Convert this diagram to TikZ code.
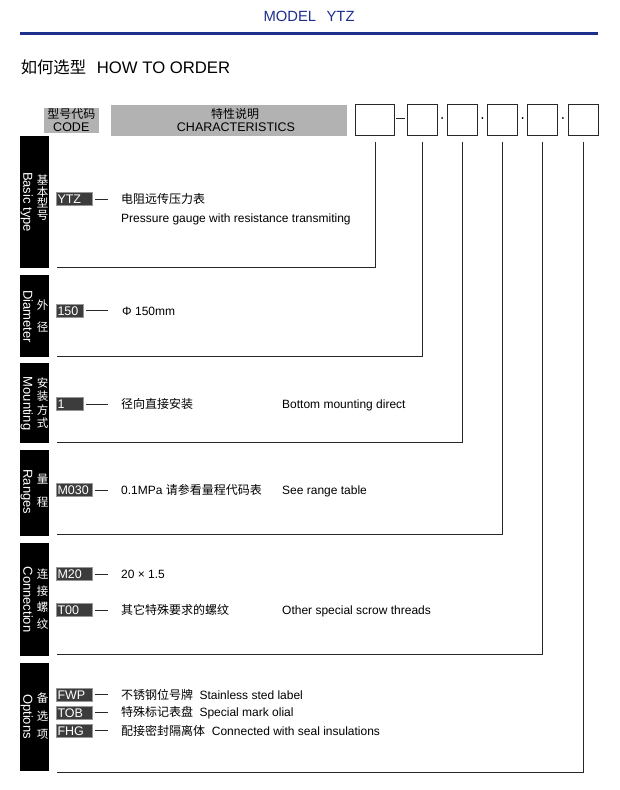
\documentclass[tikz,border=0pt]{standalone}
\usepackage{fontspec}
\setmainfont{Liberation Sans}
\newfontfamily\cjk{Noto Sans CJK SC}
\newcommand\fsz[1]{\fontsize{#1}{#1}\selectfont}
\definecolor{titleblue}{RGB}{28,48,140}
\definecolor{hdrgray}{RGB}{178,178,178}
\definecolor{tagfill}{RGB}{60,60,60}
\definecolor{tagline}{RGB}{150,150,150}
\definecolor{ink}{RGB}{40,40,40}
\begin{document}
\begin{tikzpicture}[x=1pt,y=-1pt,
  side/.style={fill=black, inner sep=0, minimum width=29pt, anchor=north},
  sideen/.style={text=white, rotate=-90, anchor=base, inner sep=0, font=\fsz{13}},
  sidecn/.style={text=white, align=center, inner sep=0, anchor=center},
  codebox/.style={draw=ink, line width=0.9pt, minimum height=31pt, minimum width=30pt, inner sep=0},
  tag/.style={fill=tagfill, draw=tagline, line width=0.6pt, text=white, font=\fsz{12.5}, inner xsep=1.2pt, inner ysep=0, text height=9pt, text depth=0pt, minimum height=13.4pt, align=left, anchor=west, text width=33.5pt},
  tagn/.style={tag, text width=24.5pt},
  txt/.style={anchor=base west, inner sep=0, font=\fsz{12}},
  conn/.style={draw=ink, line width=0.9pt},
  dashln/.style={draw=ink, line width=0.9pt},
  hdr/.style={fill=hdrgray, inner sep=0, anchor=north west},
  dotn/.style={circle, fill=black, inner sep=0, minimum size=2pt},
]
\useasboundingbox (0,0) rectangle (619,790);
\fill[white] (0,0) rectangle (619,790);

% title
\node[anchor=base west, inner sep=0, text=titleblue, font=\fsz{14.8}] (title) at (263.3,21.3) {MODEL\hspace{10.5pt}YTZ};
\draw[titleblue, line width=2.5pt] (20,33.3) -- (598,33.3);
\node[anchor=base west, inner sep=0, font=\cjk\fsz{16.3}] (howcn) at (20.7,73.8) {如何选型};
\node[anchor=base west, inner sep=0, font=\fsz{16.7}] (howen) at (96.7,73.8) {HOW TO ORDER};

% header
\node[hdr, minimum width=55.7pt, minimum height=25.4pt] (codehdr) at (43.3,107.3) {};
\node[anchor=base, inner sep=0, font=\cjk\fsz{12}] (codecn) at (71.3,118.9) {型号代码};
\node[anchor=base, inner sep=0, font=\fsz{12.5}] (codeen) at (71.3,131.5) {CODE};
\node[hdr, minimum width=236pt, minimum height=31pt] (charhdr) at (111,104.3) {};
\node[anchor=base, inner sep=0, font=\cjk\fsz{12}] (charcn) at (235,118.9) {特性说明};
\node[anchor=base, inner sep=0, font=\fsz{12.5}] (charen) at (236,131.5) {CHARACTERISTICS};

% code boxes
\node[codebox, minimum width=38.6pt] (b1) at (375,119.5) {};
\node[codebox] (b2) at (422.5,119.5) {};
\node[codebox] (b3) at (462,119.5) {};
\node[codebox] (b4) at (502.5,119.5) {};
\node[codebox] (b5) at (542.5,119.5) {};
\node[codebox] (b6) at (583.5,119.5) {};
\draw[ink, line width=1pt] ([xshift=1.7pt,yshift=1.5pt]b1.east) -- ([xshift=-2pt,yshift=1.5pt]b2.west);
\node[dotn] (d1) at (442.2,118) {};
\node[dotn] (d2) at (482.3,118) {};
\node[dotn] (d3) at (522.6,118) {};
\node[dotn] (d4) at (562.8,118) {};

% sidebars
\node[side, minimum height=132.2pt] (s1) at (34.5,135.5) {};
\node[side, minimum height=82pt] (s2) at (34.5,275) {};
\node[side, minimum height=80pt] (s3) at (34.5,363) {};
\node[side, minimum height=86.4pt] (s4) at (34.5,449.3) {};
\node[side, minimum height=112.6pt] (s5) at (34.5,542.7) {};
\node[side, minimum height=108.7pt] (s6) at (34.5,662.3) {};

\node[sideen] (s1en) at (23.3,202) {Basic type};
\node[sideen] (s2en) at (23.3,316.5) {Diameter};
\node[sideen] (s3en) at (23.3,403.5) {Mounting};
\node[sideen] (s4en) at (23.3,492) {Ranges};
\node[sideen] (s5en) at (23.3,599.5) {Connection};
\node[sideen] (s6en) at (23.3,716.5) {Options};

\node[sidecn, font=\cjk\fontsize{11.5}{11.5}\selectfont] (s1cn) at (42.7,197.8) {基\\本\\型\\号};
\node[sidecn, font=\cjk\fontsize{11.5}{21.5}\selectfont] (s2cn) at (42.7,316) {外\\径};
\node[sidecn, font=\cjk\fontsize{11.5}{13.5}\selectfont] (s3cn) at (42.7,403) {安\\装\\方\\式};
\node[sidecn, font=\cjk\fontsize{11.5}{22.5}\selectfont] (s4cn) at (42.7,491) {量\\程};
\node[sidecn, font=\cjk\fontsize{11.5}{16.8}\selectfont] (s5cn) at (42.7,599) {连\\接\\螺\\纹};
\node[sidecn, font=\cjk\fontsize{11.5}{17.8}\selectfont] (s6cn) at (42.7,716.3) {备\\选\\项};

% tags
\coordinate (dx) at (108,0);
\node[tag] (t1) at (56,199) {YTZ};
\node[tagn] (t2) at (56,310.7) {150};
\node[tagn] (t3) at (56,404) {1};
\node[tag] (t4) at (56,490) {M030};
\node[tag] (t5) at (56,574) {M20};
\node[tag] (t6) at (56,610) {T00};
\node[tag] (t7) at (56,694.7) {FWP};
\node[tag] (t8) at (56,712.5) {TOB};
\node[tag] (t9) at (56,730.8) {FHG};
\foreach \t in {t1,t2,t3,t4,t5,t6,t7,t8,t9}
  \draw[dashln] ([xshift=2.3pt]\t.east) -- (\t.east -| dx);

% descriptions
\node[txt, font=\cjk\fsz{12}] (r1cn) at (121,203.4) {电阻远传压力表};
\node[txt] (r1en) at (121,222.4) {Pressure gauge with resistance transmiting};
\node[txt] (r2) at (122,315.1) {Φ 150mm};
\node[txt, font=\cjk\fsz{12}] (r3cn) at (121,408.4) {径向直接安装};
\node[txt] (r3en) at (282,408.4) {Bottom mounting direct};
\node[txt] (r4cn) at (121,494.4) {0.1MPa {\cjk 请参看量程代码表}};
\node[txt] (r4en) at (282,494.4) {See range table};
\node[txt] (r5) at (121,578.4) {20 × 1.5};
\node[txt, font=\cjk\fsz{12}] (r6cn) at (121,614.4) {其它特殊要求的螺纹};
\node[txt] (r6en) at (282,614.4) {Other special scrow threads};
\node[txt, font=\cjk\fsz{12}] (r7cn) at (121,699.1) {不锈钢位号牌};
\node[txt] (r7en) at (199.3,699.1) {Stainless sted label};
\node[txt, font=\cjk\fsz{12}] (r8cn) at (121,716.9) {特殊标记表盘};
\node[txt] (r8en) at (199.3,716.9) {Special mark olial};
\node[txt, font=\cjk\fsz{12}] (r9cn) at (121,735.2) {配接密封隔离体};
\node[txt] (r9en) at (211.7,735.2) {Connected with seal insulations};

% connectors
\coordinate (e1) at (56.7,267.7);
\coordinate (e2) at (56.7,356);
\coordinate (e3) at (56.7,442);
\coordinate (e4) at (56.7,534.7);
\coordinate (e5) at (56.7,654.3);
\coordinate (e6) at (56.7,772.3);
\draw[conn] ([yshift=-6.5pt]b1.south) |- (e1);
\draw[conn] ([yshift=-6.5pt]b2.south) |- (e2);
\draw[conn] ([yshift=-6.5pt]b3.south) |- (e3);
\draw[conn] ([yshift=-6.5pt]b4.south) |- (e4);
\draw[conn] ([yshift=-6.5pt]b5.south) |- (e5);
\draw[conn] ([yshift=-6.5pt]b6.south) |- (e6);
\end{tikzpicture}
\end{document}
